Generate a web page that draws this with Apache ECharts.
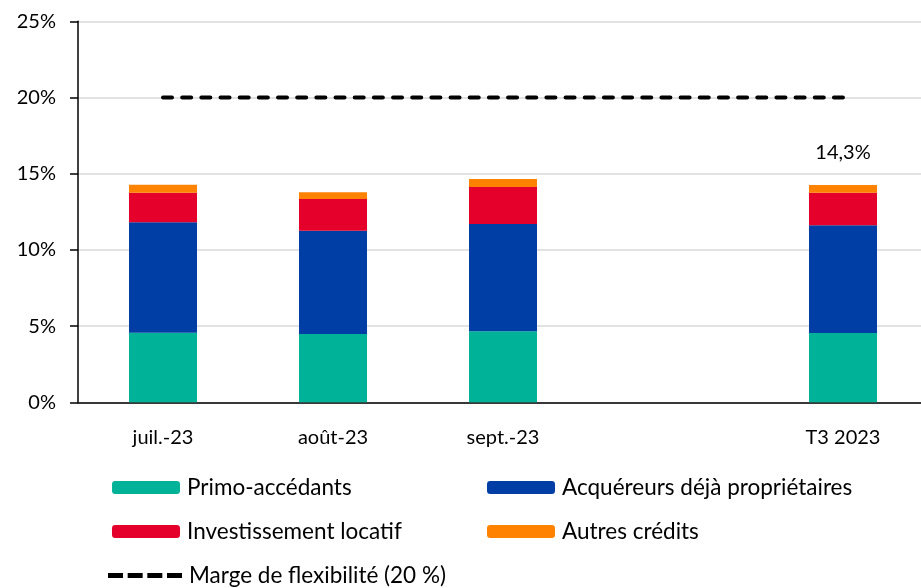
<!DOCTYPE html>
<html>
<head>
<meta charset="utf-8">
<script src="https://cdn.jsdelivr.net/npm/echarts@6/dist/echarts.min.js"></script>
<style>html,body{margin:0;padding:0;background:#fff}#c{width:921px;height:588px}</style>
</head>
<body>
<div id="c"></div>
<script>
const categories = ['juil.-23', 'août-23', 'sept.-23', '', 'T3 2023'];
const primo = [4.56, 4.48, 4.66, null, 4.55];
const acquereurs = [7.25, 6.78, 7.04, null, 7.06];
const investissement = [1.94, 2.08, 2.43, null, 2.14];
const autres = [0.53, 0.44, 0.52, null, 0.51];
const marge = [20, 20, 20, 20, 20];
const totalLabel = { index: 4, text: '14,3%' };
const yTicks = [0, 5, 10, 15, 20, 25];

const FONT = 'Lato';
const AXIS_FS = 20;
const LEG_FS = 22.5;
const colors = { primo: '#00B298', acq: '#003DA5', inv: '#E4002B', aut: '#FF8200' };
const chart = echarts.init(document.getElementById('c'), null, { renderer: 'canvas' });

function bar(name, data, color, extra) {
  return Object.assign({
    name: name, type: 'bar', stack: 'tot', data: data, barWidth: '40%',
    itemStyle: { color: color }, emphasis: { disabled: true }, animation: false
  }, extra || {});
}

const legendBase = {
  itemWidth: 68, itemHeight: 13, itemGap: 8, padding: 0,
  textStyle: { fontFamily: FONT, fontSize: LEG_FS, color: '#000', padding: [0, 0, 0, 2] },
  selectedMode: false
};
function lg(name, left, top, extra) {
  return Object.assign({}, legendBase, { data: [name], left: left, top: top }, extra || {});
}
const dashIcon = 'path://M0,0h15v5h-15z M19.67,0h15v5h-15z M39.33,0h15v5h-15z M59,0h15v5h-15z';

chart.setOption({
  animation: false,
  textStyle: { fontFamily: FONT },
  grid: { left: 78, right: -7, top: 21.3, bottom: 185.7, containLabel: false, outerBoundsMode: 'none' },
  xAxis: {
    type: 'category', data: categories,
    axisLine: { lineStyle: { color: '#000', width: 1.5 } },
    axisTick: { show: false },
    axisLabel: { fontFamily: FONT, fontSize: AXIS_FS, color: '#000', margin: 25 }
  },
  yAxis: {
    type: 'value', min: yTicks[0], max: yTicks[yTicks.length - 1], interval: 5,
    axisLine: { show: true, lineStyle: { color: '#000', width: 1.5 } },
    axisTick: { show: true, length: 8, lineStyle: { color: '#000', width: 1.5 } },
    splitLine: { lineStyle: { color: '#d9d9d9', width: 1.5 } },
    axisLabel: { fontFamily: FONT, fontSize: AXIS_FS, color: '#000', margin: 22, formatter: v => v + '%' }
  },
  legend: [
    lg('Primo-accédants', 112, 476),
    lg('Acquéreurs déjà propriétaires', 487, 476),
    lg('Investissement locatif', 112, 520),
    lg('Autres crédits', 487, 520),
    lg('Marge de flexibilité (20 %)', 108, 564, { itemWidth: 74, itemHeight: 5, icon: dashIcon, itemStyle: { color: '#000' } })
  ],
  series: [
    bar('Primo-accédants', primo, colors.primo),
    bar('Acquéreurs déjà propriétaires', acquereurs, colors.acq),
    bar('Investissement locatif', investissement, colors.inv),
    bar('Autres crédits', autres, colors.aut, {
      label: {
        show: true, position: 'top', distance: 22,
        fontFamily: FONT, fontSize: AXIS_FS, color: '#000',
        formatter: p => p.dataIndex === totalLabel.index ? totalLabel.text : ''
      }
    }),
    {
      name: 'Marge de flexibilité (20 %)', type: 'line', data: marge,
      symbol: 'none', animation: false,
      lineStyle: { color: '#000', width: 4, type: [9, 10.17], cap: 'round' },
      itemStyle: { color: '#000' },
      emphasis: { disabled: true }
    }
  ]
});
</script>
</body>
</html>
